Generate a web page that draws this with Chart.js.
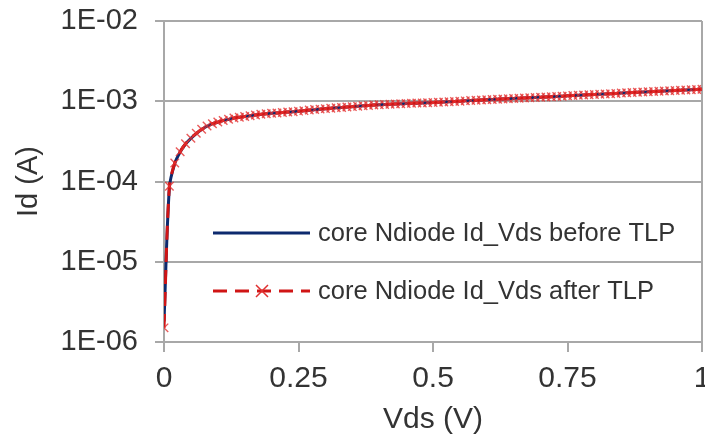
<!DOCTYPE html>
<html>
<head>
<meta charset="utf-8">
<script src="https://cdn.jsdelivr.net/npm/chart.js@4.4.0/dist/chart.umd.min.js"></script>
<style>
  html, body { margin: 0; padding: 0; background: #fff; }
  #wrap { width: 705px; height: 442px; }
</style>
</head>
<body>
<div id="wrap"><canvas id="iv-chart" width="705" height="442"></canvas></div>
<script>
// Vds sweep (V), 0 .. 1 in 0.01 steps
const vds = [
  0.00, 0.01, 0.02, 0.03, 0.04, 0.05, 0.06, 0.07, 0.08, 0.09,
  0.10, 0.11, 0.12, 0.13, 0.14, 0.15, 0.16, 0.17, 0.18, 0.19,
  0.20, 0.21, 0.22, 0.23, 0.24, 0.25, 0.26, 0.27, 0.28, 0.29,
  0.30, 0.31, 0.32, 0.33, 0.34, 0.35, 0.36, 0.37, 0.38, 0.39,
  0.40, 0.41, 0.42, 0.43, 0.44, 0.45, 0.46, 0.47, 0.48, 0.49,
  0.50, 0.51, 0.52, 0.53, 0.54, 0.55, 0.56, 0.57, 0.58, 0.59,
  0.60, 0.61, 0.62, 0.63, 0.64, 0.65, 0.66, 0.67, 0.68, 0.69,
  0.70, 0.71, 0.72, 0.73, 0.74, 0.75, 0.76, 0.77, 0.78, 0.79,
  0.80, 0.81, 0.82, 0.83, 0.84, 0.85, 0.86, 0.87, 0.88, 0.89,
  0.90, 0.91, 0.92, 0.93, 0.94, 0.95, 0.96, 0.97, 0.98, 0.99,
  1.00
];

// Id (A) before TLP
const idBefore = [
  1.8e-6, 8.4e-5, 1.68e-4, 2.33e-4, 2.93e-4, 3.45e-4, 3.96e-4, 4.45e-4, 4.88e-4, 5.23e-4,
  5.49e-4, 5.74e-4, 5.95e-4, 6.16e-4, 6.30e-4, 6.45e-4, 6.60e-4, 6.75e-4, 6.86e-4, 6.97e-4,
  7.07e-4, 7.16e-4, 7.24e-4, 7.33e-4, 7.41e-4, 7.52e-4, 7.63e-4, 7.75e-4, 7.86e-4, 7.97e-4,
  8.08e-4, 8.17e-4, 8.27e-4, 8.37e-4, 8.46e-4, 8.56e-4, 8.66e-4, 8.76e-4, 8.86e-4, 8.96e-4,
  9.05e-4, 9.11e-4, 9.17e-4, 9.24e-4, 9.30e-4, 9.36e-4, 9.42e-4, 9.47e-4, 9.53e-4, 9.58e-4,
  9.63e-4, 9.71e-4, 9.79e-4, 9.87e-4, 9.95e-4, 1.003e-3, 1.011e-3, 1.019e-3, 1.027e-3, 1.036e-3,
  1.045e-3, 1.052e-3, 1.060e-3, 1.068e-3, 1.075e-3, 1.083e-3, 1.091e-3, 1.098e-3, 1.106e-3, 1.114e-3,
  1.122e-3, 1.131e-3, 1.140e-3, 1.149e-3, 1.158e-3, 1.167e-3, 1.176e-3, 1.186e-3, 1.196e-3, 1.206e-3,
  1.216e-3, 1.225e-3, 1.234e-3, 1.244e-3, 1.253e-3, 1.263e-3, 1.273e-3, 1.282e-3, 1.292e-3, 1.302e-3,
  1.312e-3, 1.322e-3, 1.332e-3, 1.342e-3, 1.352e-3, 1.362e-3, 1.372e-3, 1.382e-3, 1.392e-3, 1.402e-3,
  1.412e-3
];

// Id (A) after TLP
const idAfter = [
  1.5e-6, 8.7e-5, 1.70e-4, 2.35e-4, 2.95e-4, 3.47e-4, 3.98e-4, 4.47e-4, 4.90e-4, 5.25e-4,
  5.50e-4, 5.75e-4, 5.96e-4, 6.17e-4, 6.30e-4, 6.45e-4, 6.60e-4, 6.76e-4, 6.87e-4, 6.98e-4,
  7.08e-4, 7.16e-4, 7.24e-4, 7.33e-4, 7.41e-4, 7.53e-4, 7.64e-4, 7.76e-4, 7.87e-4, 7.98e-4,
  8.09e-4, 8.18e-4, 8.28e-4, 8.37e-4, 8.47e-4, 8.57e-4, 8.67e-4, 8.77e-4, 8.87e-4, 8.97e-4,
  9.06e-4, 9.12e-4, 9.18e-4, 9.25e-4, 9.30e-4, 9.36e-4, 9.42e-4, 9.48e-4, 9.53e-4, 9.58e-4,
  9.63e-4, 9.71e-4, 9.79e-4, 9.87e-4, 9.95e-4, 1.003e-3, 1.011e-3, 1.019e-3, 1.027e-3, 1.036e-3,
  1.045e-3, 1.052e-3, 1.060e-3, 1.068e-3, 1.075e-3, 1.083e-3, 1.091e-3, 1.098e-3, 1.106e-3, 1.114e-3,
  1.122e-3, 1.131e-3, 1.140e-3, 1.149e-3, 1.158e-3, 1.167e-3, 1.176e-3, 1.186e-3, 1.196e-3, 1.206e-3,
  1.216e-3, 1.225e-3, 1.234e-3, 1.244e-3, 1.253e-3, 1.263e-3, 1.273e-3, 1.282e-3, 1.292e-3, 1.302e-3,
  1.312e-3, 1.322e-3, 1.332e-3, 1.342e-3, 1.352e-3, 1.362e-3, 1.372e-3, 1.382e-3, 1.392e-3, 1.402e-3,
  1.412e-3
];

const seriesLabels = ["core Ndiode Id_Vds before TLP", "core Ndiode Id_Vds after TLP"];
const xTicks = [0, 0.25, 0.5, 0.75, 1];
const yTicks = [1e-6, 1e-5, 1e-4, 1e-3, 1e-2];

const FONT = "'Liberation Sans', Arial, sans-serif";
const TEXT = "#333333";
const GRID = "#a8a8a8";
const BLUE = "#0d2a6e";
const RED = "#d01515";

function sciLabel(v) {
  const e = Math.round(Math.log10(v));
  const s = Math.abs(e) < 10 ? "0" + Math.abs(e) : String(Math.abs(e));
  return "1E" + (e < 0 ? "-" : "+") + s;
}

function pairs(ys) {
  return vds.map((x, i) => ({ x: x, y: ys[i] }));
}

// legend drawn inside the plot area, Excel style
const insideLegend = {
  id: "insideLegend",
  afterDatasetsDraw(chart) {
    const ctx = chart.ctx;
    const rows = [
      { y: 233, color: BLUE, dash: [], marker: false },
      { y: 291, color: RED, dash: [14, 8], marker: true }
    ];
    ctx.save();
    rows.forEach((r, i) => {
      ctx.strokeStyle = r.color;
      ctx.lineWidth = 3;
      ctx.setLineDash(r.dash);
      ctx.beginPath();
      ctx.moveTo(213, r.y);
      ctx.lineTo(310, r.y);
      ctx.stroke();
      ctx.setLineDash([]);
      if (r.marker) {
        ctx.strokeStyle = "#e03030";
        ctx.lineWidth = 1.5;
        ctx.beginPath();
        ctx.moveTo(256, r.y - 6); ctx.lineTo(268, r.y + 6);
        ctx.moveTo(268, r.y - 6); ctx.lineTo(256, r.y + 6);
        ctx.stroke();
      }
      ctx.fillStyle = TEXT;
      ctx.font = "25.5px " + FONT;
      ctx.textBaseline = "middle";
      ctx.fillText(seriesLabels[i], 318, r.y + 1);
    });
    ctx.restore();
  }
};

new Chart(document.getElementById("iv-chart"), {
  type: "line",
  data: {
    datasets: [
      {
        label: seriesLabels[0],
        data: pairs(idBefore),
        borderColor: BLUE,
        borderWidth: 3,
        pointRadius: 0,
        fill: false,
        tension: 0.3,
        order: 2
      },
      {
        label: seriesLabels[1],
        data: pairs(idAfter),
        borderColor: RED,
        borderWidth: 3,
        borderDash: [14, 8],
        pointStyle: "crossRot",
        pointRadius: 6,
        pointBorderWidth: 1.4,
        pointBorderColor: "rgba(228,50,50,0.8)",
        fill: false,
        tension: 0.3,
        order: 1
      }
    ]
  },
  options: {
    responsive: false,
    animation: false,
    layout: { autoPadding: false, padding: { top: 21, right: 3, left: 0, bottom: 0 } },
    plugins: {
      legend: { display: false },
      title: { display: false },
      tooltip: { enabled: false }
    },
    scales: {
      x: {
        type: "linear",
        min: 0,
        max: 1,
        afterBuildTicks: (scale) => { scale.ticks = xTicks.map(v => ({ value: v })); },
        afterFit: (scale) => { scale.height = 100; scale.paddingRight = 0; scale.paddingLeft = 0; },
        border: { color: GRID, width: 2 },
        grid: {
          color: (c) => (c.tick && c.tick.value === 1 ? GRID : "transparent"),
          lineWidth: 2,
          tickColor: GRID,
          tickLength: 10,
          drawTicks: true
        },
        ticks: {
          color: TEXT,
          font: { family: FONT, size: 30 },
          padding: 9,
          maxRotation: 0,
          callback: (v) => String(v)
        },
        title: {
          display: true,
          text: "Vds (V)",
          color: TEXT,
          font: { family: FONT, size: 30 },
          padding: { top: 0, bottom: 4 }
        }
      },
      y: {
        type: "logarithmic",
        min: 1e-6,
        max: 1e-2,
        afterBuildTicks: (scale) => { scale.ticks = yTicks.map(v => ({ value: v })); },
        afterFit: (scale) => { scale.width = 164; scale.paddingTop = 0; scale.paddingBottom = 0; },
        border: { color: GRID, width: 2 },
        grid: {
          color: GRID,
          lineWidth: 2,
          tickColor: GRID,
          tickLength: 9
        },
        ticks: {
          color: TEXT,
          font: { family: FONT, size: 29 },
          padding: 17,
          callback: (v) => sciLabel(v)
        },
        title: {
          display: true,
          text: "Id (A)",
          color: TEXT,
          font: { family: FONT, size: 29 },
          padding: { top: 12, bottom: 0 }
        }
      }
    }
  },
  plugins: [insideLegend]
});
</script>
</body>
</html>
